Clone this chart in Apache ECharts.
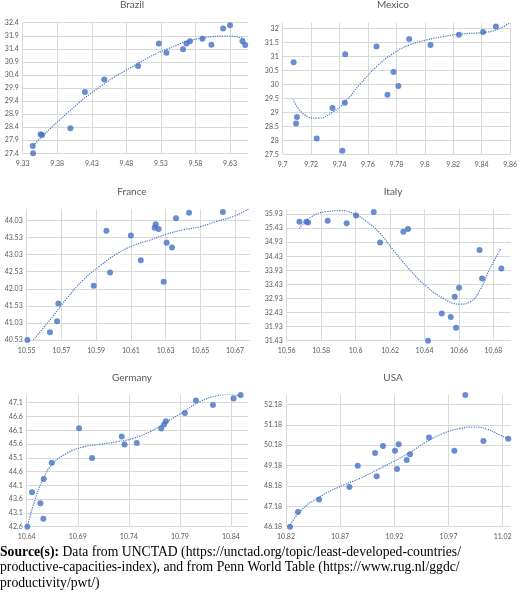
<!DOCTYPE html>
<html>
<head>
<meta charset="utf-8">
<script src="https://cdn.jsdelivr.net/npm/echarts@6/dist/echarts.min.js"></script>
<style>
html,body{margin:0;padding:0;background:#fff;}
#c{width:520px;height:595px;}
</style>
</head>
<body>
<div id="c"></div>
<script>
// ---- Data ----
const panelTitles = ['Brazil', 'Mexico', 'France', 'Italy', 'Germany', 'USA'];

const brazilX = [9.3445, 9.345, 9.356, 9.358, 9.399, 9.42, 9.448, 9.497, 9.527, 9.538, 9.562, 9.567, 9.572, 9.59, 9.603, 9.62, 9.63, 9.648, 9.652];
const brazilY = [27.68, 27.40, 28.13, 28.10, 28.36, 29.75, 30.23, 30.74, 31.60, 31.25, 31.38, 31.60, 31.69, 31.79, 31.56, 32.18, 32.30, 31.69, 31.55];
const brazilTrendX = [9.345, 9.394, 9.442, 9.497, 9.538, 9.587, 9.63, 9.652];
const brazilTrendY = [27.70, 28.93, 29.95, 30.84, 31.38, 31.80, 31.89, 31.76];

const mexicoX = [9.7077, 9.7094, 9.710, 9.7239, 9.735, 9.742, 9.744, 9.7437, 9.766, 9.7737, 9.778, 9.7814, 9.789, 9.804, 9.824, 9.841, 9.850, 9.8605];
const mexicoY = [30.79, 28.60, 28.83, 28.06, 29.15, 27.63, 31.07, 29.34, 31.35, 29.63, 30.44, 29.94, 31.62, 31.40, 31.77, 31.87, 32.06, 32.18];
const mexicoTrendX = [9.7073, 9.7145, 9.7239, 9.7356, 9.745, 9.754, 9.766, 9.7777, 9.789, 9.801, 9.8127, 9.8244, 9.8408, 9.850, 9.86];
const mexicoTrendY = [29.46, 28.95, 28.79, 29.02, 29.44, 29.98, 30.63, 31.10, 31.40, 31.58, 31.70, 31.79, 31.85, 31.94, 32.20];

const franceX = [10.5504, 10.5634, 10.5675, 10.5682, 10.5886, 10.5959, 10.598, 10.61, 10.6157, 10.6237, 10.6243, 10.626, 10.6289, 10.6306, 10.6337, 10.636, 10.6435, 10.663, 10.678];
const franceY = [40.53, 40.755, 41.08, 41.60, 42.12, 43.73, 42.51, 43.59, 42.87, 43.82, 43.92, 43.78, 42.24, 43.38, 43.24, 44.10, 44.26, 44.28, 44.37];
const franceTrendX = [10.5538, 10.5634, 10.573, 10.5826, 10.5922, 10.6018, 10.6114, 10.621, 10.6306, 10.64, 10.65, 10.659, 10.669, 10.6777];
const franceTrendY = [40.53, 41.12, 41.74, 42.29, 42.70, 43.05, 43.30, 43.46, 43.63, 43.76, 43.85, 44.00, 44.15, 44.37];

const italyX = [10.5674, 10.5714, 10.5724, 10.5838, 10.5948, 10.6003, 10.6105, 10.6142, 10.6277, 10.6304, 10.642, 10.65, 10.6552, 10.6575, 10.6583, 10.66, 10.6719, 10.6734, 10.6846];
const italyY = [35.66, 35.66, 35.63, 35.69, 35.60, 35.88, 36.00, 34.92, 35.30, 35.40, 31.43, 32.40, 32.27, 32.99, 31.89, 33.31, 34.65, 33.64, 34.00];
const italyTrendX = [10.5674, 10.5735, 10.5832, 10.591, 10.5987, 10.6064, 10.6142, 10.6219, 10.6316, 10.6413, 10.651, 10.6606, 10.6664, 10.6722, 10.678, 10.6844];
const italyTrendY = [35.42, 35.80, 36.02, 36.05, 35.95, 35.66, 35.24, 34.65, 33.94, 33.35, 32.93, 32.73, 32.81, 33.23, 34.00, 34.71];

const germanyX = [10.6407, 10.6452, 10.6534, 10.6563, 10.6567, 10.6645, 10.6913, 10.704, 10.7331, 10.7358, 10.7478, 10.7717, 10.7746, 10.7763, 10.7949, 10.8057, 10.8224, 10.8426, 10.8495];
const germanyY = [42.60, 43.85, 43.45, 42.89, 44.33, 44.92, 46.17, 45.09, 45.87, 45.58, 45.64, 46.16, 46.31, 46.43, 46.73, 47.18, 47.02, 47.25, 47.38];
const germanyTrendX = [10.6407, 10.6465, 10.6563, 10.6661, 10.6792, 10.6956, 10.7119, 10.7282, 10.7446, 10.7609, 10.7773, 10.7936, 10.8099, 10.8263, 10.8393, 10.8492];
const germanyTrendY = [42.60, 43.39, 44.35, 44.90, 45.26, 45.50, 45.59, 45.68, 45.81, 46.05, 46.41, 46.77, 47.14, 47.35, 47.40, 47.32];

const usaX = [10.8237, 10.8311, 10.8505, 10.8785, 10.8862, 10.9022, 10.9037, 10.9095, 10.9206, 10.9225, 10.924, 10.9314, 10.9345, 10.952, 10.9754, 10.9855, 11.0022, 11.0252];
const usaY = [46.18, 46.90, 47.52, 48.13, 49.17, 49.79, 48.65, 50.14, 49.91, 49.01, 50.23, 49.45, 49.73, 50.55, 49.91, 52.64, 50.38, 50.50];
const usaTrendX = [10.8231, 10.8329, 10.8505, 10.8729, 10.8883, 10.9037, 10.9191, 10.9345, 10.9498, 10.9652, 10.9806, 10.9929, 11.0052, 11.0175, 11.0252];
const usaTrendY = [46.18, 46.92, 47.63, 48.22, 48.55, 48.96, 49.37, 49.83, 50.35, 50.76, 51.00, 51.07, 50.97, 50.68, 50.48];

// axis scales: [min, max, interval, decimals(null = general)]
const xScales = [
  [9.33, 9.656, 0.05, 2],
  [9.70, 9.86, 0.02, null],
  [10.55, 10.6786, 0.02, 2],
  [10.56, 10.69, 0.02, null],
  [10.64, 10.857, 0.05, 2],
  [10.82, 11.0274, 0.05, 2]
];
const yScales = [
  [27.4, 32.4, 0.5, 1],
  [27.5, 32.2, 0.5, null],
  [40.53, 44.36, 0.5, 2],
  [31.43, 36.10, 0.5, 2],
  [42.6, 47.38, 0.5, 1],
  [46.18, 52.64, 1, 2]
];

const pointsX = [brazilX, mexicoX, franceX, italyX, germanyX, usaX];
const pointsY = [brazilY, mexicoY, franceY, italyY, germanyY, usaY];
const trendX = [brazilTrendX, mexicoTrendX, franceTrendX, italyTrendX, germanyTrendX, usaTrendX];
const trendY = [brazilTrendY, mexicoTrendY, franceTrendY, italyTrendY, germanyTrendY, usaTrendY];

const sourceLines = [
  ['Source(s):', ' Data from UNCTAD (https://unctad.org/topic/least-developed-countries/'],
  ['', 'productive-capacities-index), and from Penn World Table (https://www.rug.nl/ggdc/'],
  ['', 'productivity/pwt/)']
];

// ---- Layout ----
const grids = [
  {left: 22.7, top: 22.7, width: 225.3, height: 130.6},
  {left: 282.7, top: 22.7, width: 228, height: 131.6},
  {left: 26.7, top: 209.3, width: 223.3, height: 130.7},
  {left: 286.7, top: 209.3, width: 224, height: 131.4},
  {left: 26.7, top: 395, width: 221.6, height: 131.7},
  {left: 286, top: 395, width: 224.7, height: 131.7}
];
const titlePos = [[132, 0], [393, 0], [132, 186.5], [393, 186.5], [132, 373], [393, 373]];

const BLUE = '#4472C4';
const GRID = '#d9d9d9';
const TXT = '#595959';
const FONT = 'Lato, "Open Sans", sans-serif';
const SERIF = '"Liberation Serif", "Times New Roman", serif';

function fmt(dec) {
  return function (v) {
    if (dec === null) return String(+(+v).toFixed(4));
    return (+v).toFixed(dec);
  };
}

function onTick(min, interval) {
  return function (v) {
    const k = (v - min) / interval;
    return Math.abs(k - Math.round(k)) < 1e-6;
  };
}

const option = {
  animation: false,
  backgroundColor: '#fff',
  title: panelTitles.map((t, i) => ({
    text: t,
    left: titlePos[i][0],
    top: titlePos[i][1],
    padding: 0,
    textAlign: 'center',
    textStyle: {fontFamily: FONT, fontSize: 10, fontWeight: 'normal', color: TXT}
  })),
  grid: grids.map(g => Object.assign({containLabel: false}, g)),
  xAxis: xScales.map((s, i) => {
    const ok = onTick(s[0], s[2]);
    const f = fmt(s[3]);
    return {
      type: 'value', gridIndex: i, min: s[0], max: s[1], interval: s[2],
      axisLine: {show: false}, axisTick: {show: false},
      splitLine: {show: true, showMaxLine: ok(s[1]), lineStyle: {color: GRID, width: 1}},
      axisLabel: {
        showMaxLabel: ok(s[1]), margin: 7,
        fontFamily: FONT, fontSize: 7, color: TXT,
        formatter: v => ok(v) ? f(v) : ''
      }
    };
  }),
  yAxis: yScales.map((s, i) => {
    const ok = onTick(s[0], s[2]);
    const f = fmt(s[3]);
    return {
      type: 'value', gridIndex: i, min: s[0], max: s[1], interval: s[2],
      axisLine: {show: false}, axisTick: {show: false},
      splitLine: {show: true, showMaxLine: ok(s[1]), lineStyle: {color: GRID, width: 1}},
      axisLabel: {
        showMaxLabel: ok(s[1]), margin: 4,
        fontFamily: FONT, fontSize: 7, color: TXT,
        formatter: v => ok(v) ? f(v) : ''
      }
    };
  }),
  series: [],
  graphic: []
};

for (let i = 0; i < 6; i++) {
  option.series.push({
    type: 'line', xAxisIndex: i, yAxisIndex: i,
    data: trendX[i].map((x, j) => [x, trendY[i][j]]),
    smooth: 0.5, symbol: 'none', silent: true,
    lineStyle: {color: BLUE, width: 1.2, type: [1.2, 1.2]},
    z: 2
  });
  option.series.push({
    type: 'scatter', xAxisIndex: i, yAxisIndex: i,
    data: pointsX[i].map((x, j) => [x, pointsY[i][j]]),
    symbol: 'circle', symbolSize: 6,
    itemStyle: {color: BLUE},
    z: 3
  });
}

const lineY = [553, 568.5, 584];
sourceLines.forEach((ln, i) => {
  option.graphic.push({
    type: 'text', left: 0, top: lineY[i] - 8,
    style: {
      text: (ln[0] ? '{b|' + ln[0] + '}' : '') + ln[1],
      rich: {b: {fontWeight: 'bold', fontFamily: SERIF, fontSize: 13.7, fill: '#000'}},
      font: '13.7px ' + SERIF,
      fill: '#000'
    }
  });
});

const chart = echarts.init(document.getElementById('c'), null, {renderer: 'canvas'});
chart.setOption(option);
</script>
</body>
</html>
